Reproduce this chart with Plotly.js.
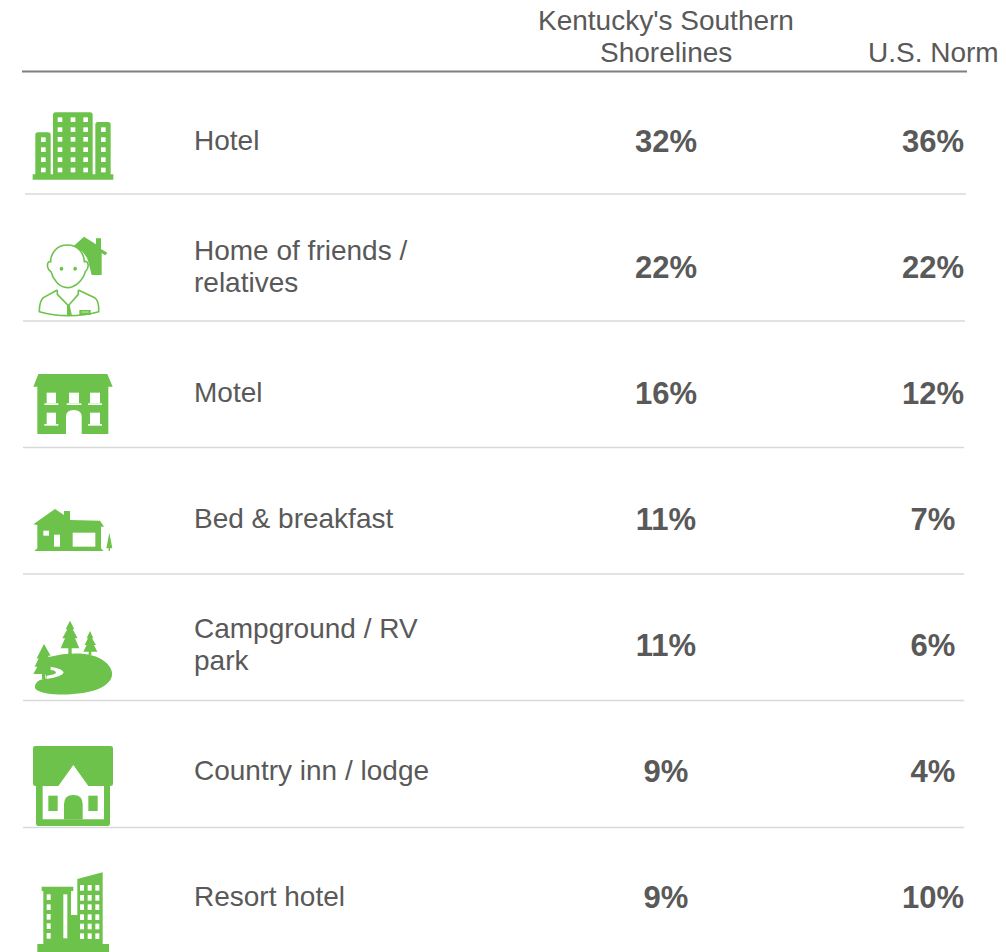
<!DOCTYPE html>
<html><head><meta charset="utf-8">
<script src="https://cdn.plot.ly/plotly-3.0.1.min.js"></script>
<style>html,body{margin:0;padding:0;background:#fff}#chart{width:1007px;height:952px}</style>
</head><body><div id="chart"></div>
<script>
const categories = ["Hotel","Home of friends /<br>relatives","Motel","Bed & breakfast","Campground / RV<br>park","Country inn / lodge","Resort hotel"];
const columns = ["Kentucky's Southern<br>Shorelines","U.S. Norm"];
const kentucky = [32,22,16,11,11,9,9];
const usNorm = [36,22,12,7,6,4,10];

const GREEN="#6cc24b", TEXT="#595959", FONT='"Liberation Sans", Arial, sans-serif';

// Icon artwork helpers: authored at 3x in a local box, then placed on the page
function tx(path,ox,oy){let i=0;return path.replace(/-?\d+(\.\d+)?/g,m=>{const v=+m/3+(i++%2===0?ox:oy);return v.toFixed(2);});}
function r(x0,y0,x1,y1){return `M${x0} ${y0}L${x1} ${y0}L${x1} ${y1}L${x0} ${y1}Z`;}
const shapes=[];
function add(path,ox,oy,color,extra){shapes.push(Object.assign({type:'path',xref:'x2',yref:'y2',path:tx(path,ox,oy),fillcolor:color,line:{width:0},layer:'below'},extra||{}));}
function stroke(path,ox,oy,w){shapes.push({type:'path',xref:'x2',yref:'y2',path:tx(path,ox,oy),fillcolor:'rgba(0,0,0,0)',line:{color:GREEN,width:w},layer:'below'});}
function hline(x0,x1,y,c,w){shapes.push({type:'line',xref:'x2',yref:'y2',x0,x1,y0:y,y1:y,line:{color:c,width:w},layer:'below'});}

// rules
hline(22,967,71.5,"#7f7f7f",2);
[[25,966,194],[23,965,321],[23,964,447.5],[23,964,574],[23,964,700.5],[23,964,827.5]].forEach(a=>hline(a[0],a[1],a[2],"#d9d9d9",1.5));

// hotel
(function(){const ox=20,oy=95;
add(r(38,238,280,254),ox,oy,GREEN);
add("M46 120Q46 112 54 112L84 112Q92 112 92 120L92 240L46 240Z",ox,oy,GREEN);
add("M99 60Q99 52 107 52L210 52Q218 52 218 60L218 240L99 240Z",ox,oy,GREEN);
add("M226 89Q226 81 234 81L264 81Q272 81 272 89L272 240L226 240Z",ox,oy,GREEN);
[127,157,187,218].forEach(y=>add(r(63,y,77,y+14),ox,oy,"#fff"));
[67,97,126,157,187,218].forEach(y=>[113,152,190].forEach(x=>add(r(x,y,x+14,y+14),ox,oy,"#fff")));
[97,127,157,187,218].forEach(y=>add(r(243,y,257,y+14),ox,oy,"#fff"));
})();
// person + home
(function(){const ox=20,oy=95;
add("M162 452L192 425L228 448L228 430L243 430L243 462L262 473L256 481L245 474L245 540L215 540L205 500Q198 475 172 458Z",ox,oy,GREEN);
stroke("M142 450C175 450 192 475 193 500C205 495 210 518 196 530C190 555 165 578 142 578C118 578 100 555 93 530C78 520 80 497 92 500C92 475 110 450 142 450Z",ox,oy,1.6);
add("M119 521Q119 515 124 515Q130 515 130 521Q130 527 124 527Q119 527 119 521Z",ox,oy,GREEN);
add("M160 521Q160 515 165 515Q171 515 171 521Q171 527 165 527Q160 527 160 521Z",ox,oy,GREEN);
stroke("M112 585L70 608Q58 618 58 650Q100 662 145 662Q195 662 236 650Q238 618 224 608L175 585",ox,oy,1.6);
stroke("M112 585L112 598L145 632L175 598L175 585",ox,oy,1.6);
add("M141 630L149 630L156 662L141 662Z",ox,oy,GREEN);
add(r(178,645,212,660),ox,oy,GREEN);
add(r(184,650,206,652),ox,oy,"#fff");
})();
// motel
(function(){const ox=20,oy=360;
add("M40 80L55 42L262 42L278 80L265 80L265 222L185 222L185 170Q185 150 161 150Q138 150 138 170L138 222L52 222L52 80Z",ox,oy,GREEN);
[[80,98,108,130,73,115],[147,98,177,130,140,184],[210,98,240,130,204,246],[80,158,108,192,73,115],[210,158,240,192,204,246]].forEach(w=>{
 add(r(w[0],w[1],w[2],w[3]),ox,oy,"#fff");add(r(w[4],w[3],w[5],w[3]+5),ox,oy,"#fff");});
})();
// bed & breakfast
(function(){const ox=20,oy=360;
add("M40 493L105 447L132 465L132 453L150 453L150 480L240 482L252 500L243 500L243 565L250 573L43 573L52 565L52 495Z",ox,oy,GREEN);
add(r(70,512,87,527),ox,oy,"#fff");add(r(102,524,120,560),ox,oy,"#fff");add(r(158,518,226,560),ox,oy,"#fff");
add("M268 518L277 565L270 565L270 573L266 573L266 565L259 565Z",ox,oy,GREEN);
})();
// campground
(function(){const ox=20,oy=610;
add("M90 140C150 125 220 125 255 155C290 185 280 215 240 235C190 258 80 260 50 240C40 232 45 218 60 210L80 205L60 140Z",ox,oy,GREEN);
add("M150 32L163 58L158 58L173 85L165 85L178 115L155 115L155 132L145 132L145 115L122 115L135 85L127 85L142 58L137 58Z",ox,oy,GREEN);
add("M210 63L220 85L216 85L228 105L222 105L232 125L214 125L214 135L206 135L206 125L190 125L200 105L194 105L204 85L200 85Z",ox,oy,GREEN);
add("M72 102L92 137L84 137L90 160L82 160L90 192L76 192L76 208L66 208L66 192L40 192L52 170L44 170L56 145L50 145Z",ox,oy,GREEN);
add("M92 170Q130 176 131 188Q125 200 80 207L80 197Q110 194 108 186Q104 180 92 180Z",ox,oy,"#fff");
})();
// country inn
(function(){const ox=20,oy=610;
add("M46 408L272 408Q279 408 279 415L279 521Q279 528 272 528L270 528L270 641Q270 648 263 648L55 648Q48 648 48 641L48 528L46 528Q39 528 39 521L39 415Q39 408 46 408Z",ox,oy,GREEN);
add("M68 528L115 528L160 465L205 528L252 528L252 628L68 628Z",ox,oy,"#fff");
add(r(85,557,113,603),ox,oy,GREEN);add(r(205,557,233,603),ox,oy,GREEN);
add("M132 628L132 583Q132 555 160 555Q188 555 188 583L188 628Z",ox,oy,GREEN);
})();
// resort hotel
(function(){const ox=20,oy=860;
add(r(52,252,267,276),ox,oy,GREEN);
add("M65 80L160 80L160 93L153 93L153 165L172 165L172 57L248 37L248 252L70 252L70 93L65 93Z",ox,oy,GREEN);
add(r(130,103,142,235),ox,oy,"#fff");
[103,133,162,190,219].forEach(y=>add(r(80,y,92,y+17),ox,oy,"#fff"));
[75,105,133,163,191,220].forEach(y=>[180,203,226].forEach(x=>add(r(x,y,x+12,y+17),ox,oy,"#fff")));
})();

const annotations=[];
function textLines(str,x,xref,xanchor,y,yref,base,shift){
  const lines=str.split("<br>");
  lines.forEach((t,k)=>annotations.push({text:t,showarrow:false,xref,yref,x,y,xanchor,yanchor:'middle',align:xanchor==='left'?'left':'center',
    yshift:shift-(k-(base===undefined?(lines.length-1)/2:base))*32,font:{family:FONT,size:28,color:TEXT},borderpad:0,borderwidth:0}));
}
categories.forEach((c,i)=>textLines(c,194,'x2','left',i,'y',undefined,4));
columns.forEach((c,j)=>{const n=c.split("<br>").length;textLines(c,j,'x','center',53,'y2',n-1,1);});

const pct=v=>v.map(d=>d+"%");
const valTrace=(name,vals)=>({type:'scatter',mode:'text',x:categories.map(()=>name),y:categories,text:pct(vals),
  textposition:'middle center',textfont:{family:FONT,size:31,color:TEXT,weight:700},cliponaxis:false,hoverinfo:'skip',showlegend:false});
const data=[valTrace(columns[0],kentucky),valTrace(columns[1],usNorm),
  {type:'scatter',mode:'markers',x:[],y:[],xaxis:'x2',yaxis:'y2',showlegend:false}];

const PX=267,PY=126,Y0=144; // px per category step, first row centre
const layout={width:1007,height:952,margin:{l:0,r:0,t:0,b:0,pad:0},paper_bgcolor:'#fff',plot_bgcolor:'#fff',showlegend:false,
  font:{family:FONT,color:TEXT},
  xaxis:{type:'category',categoryorder:'array',categoryarray:columns,range:[-666/PX,(1007-666)/PX],visible:false,fixedrange:true,domain:[0,1]},
  yaxis:{type:'category',categoryorder:'array',categoryarray:categories,range:[(952-Y0)/PY,-Y0/PY],visible:false,fixedrange:true,domain:[0,1]},
  xaxis2:{overlaying:'x',range:[0,1007],visible:false,fixedrange:true,anchor:'y2'},
  yaxis2:{overlaying:'y',range:[952,0],visible:false,fixedrange:true,anchor:'x2'},
  shapes,annotations};
Plotly.newPlot('chart',data,layout,{displayModeBar:false,staticPlot:true});
</script></body></html>
